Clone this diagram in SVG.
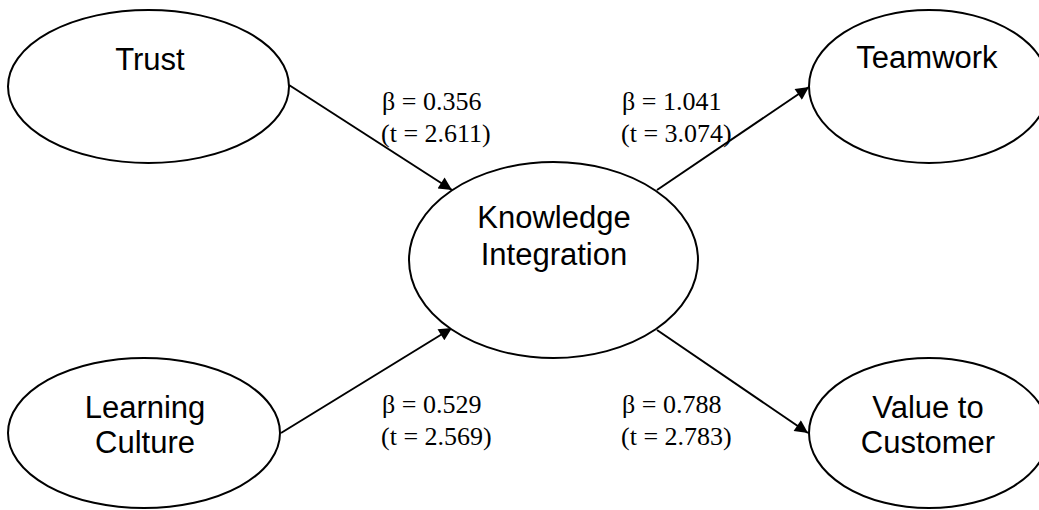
<svg xmlns="http://www.w3.org/2000/svg" width="1039" height="510" viewBox="0 0 1039 510">
<style>
.node ellipse{fill:#fff;stroke:#000;stroke-width:2}
.node text{font-family:"Liberation Sans",Arial,sans-serif;font-size:31px;fill:#000;text-anchor:middle}
.lbl{font-family:"Liberation Serif","Times New Roman",serif;font-size:26px;fill:#000}
.edge{stroke:#000;stroke-width:2;fill:none;marker-end:url(#arr)}
</style>
<defs>
<marker id="arr" viewBox="0 0 10 10" refX="10" refY="5" markerWidth="8.5" markerHeight="6.5" orient="auto" markerUnits="strokeWidth">
<path d="M0,0 L10,5 L0,10 z" fill="#000"/>
</marker>
</defs>
<rect width="1039" height="510" fill="#fff"/>
<g id="connectors">
<line class="edge" x1="289" y1="85" x2="452" y2="190"/>
<line class="edge" x1="281" y1="433" x2="452" y2="328"/>
<line class="edge" x1="657" y1="190" x2="809" y2="87"/>
<line class="edge" x1="657" y1="330" x2="808" y2="433"/>
</g>
<g id="trust" class="node">
<ellipse cx="148.5" cy="86.5" rx="140.5" ry="76.5"/>
<text x="150" y="70">Trust</text>
</g>
<g id="learning-culture" class="node">
<ellipse cx="144" cy="433" rx="136" ry="75"/>
<text x="145" y="418">Learning</text>
<text x="145" y="453">Culture</text>
</g>
<g id="knowledge-integration" class="node">
<ellipse cx="553.5" cy="260" rx="144.5" ry="98"/>
<text x="554" y="228">Knowledge</text>
<text x="554" y="265">Integration</text>
</g>
<g id="teamwork" class="node">
<ellipse cx="929" cy="86.5" rx="120" ry="76.5"/>
<text x="927" y="68">Teamwork</text>
</g>
<g id="value-to-customer" class="node">
<ellipse cx="929" cy="433" rx="120" ry="75"/>
<text x="928" y="418">Value to</text>
<text x="928" y="453">Customer</text>
</g>
<g id="labels">
<text class="lbl" x="382" y="110">β = 0.356</text>
<text class="lbl" x="381" y="142">(t = 2.611)</text>
<text class="lbl" x="622" y="110">β = 1.041</text>
<text class="lbl" x="621" y="142">(t = 3.074)</text>
<text class="lbl" x="382" y="413">β = 0.529</text>
<text class="lbl" x="381" y="445">(t = 2.569)</text>
<text class="lbl" x="622" y="413">β = 0.788</text>
<text class="lbl" x="621" y="445">(t = 2.783)</text>
</g>
</svg>
